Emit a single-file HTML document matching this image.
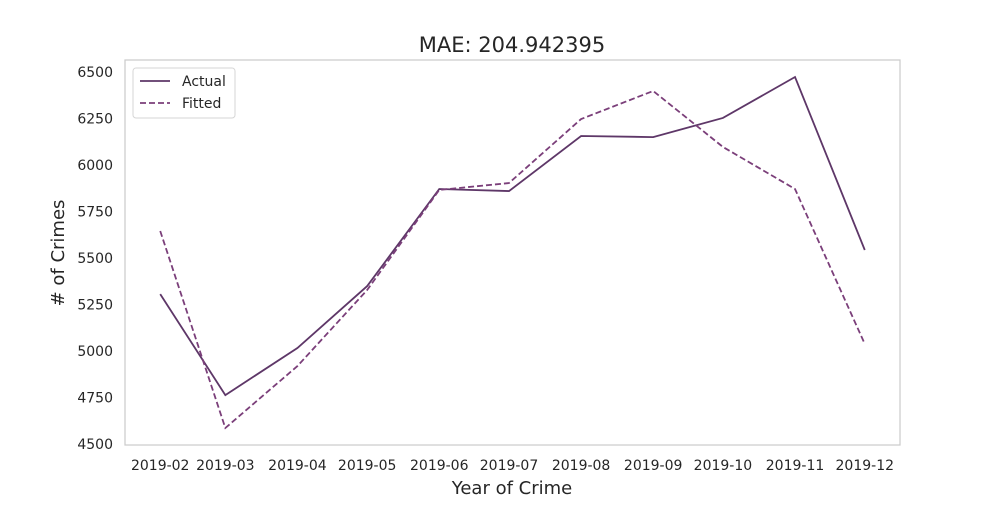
<!DOCTYPE html>
<html><head><meta charset="utf-8"><style>
body{margin:0;background:#fff;font-family:"Liberation Sans","DejaVu Sans",sans-serif;}
svg text{font-family:"DejaVu Sans","Liberation Sans",sans-serif;fill:#262626;}
</style></head><body>
<svg id="chart" width="1000" height="500" xmlns="http://www.w3.org/2000/svg"></svg>
<script>
const months = ["2019-02","2019-03","2019-04","2019-05","2019-06","2019-07","2019-08","2019-09","2019-10","2019-11","2019-12"];
const actual = [5306,4763,5016,5349,5871,5860,6156,6150,6253,6473,5543];
const fitted = [5645,4586,4919,5328,5866,5903,6247,6398,6097,5871,5038];
const yTicks = [4500,4750,5000,5250,5500,5750,6000,6250,6500];

const L=125,R=900,T=60,B=445;
const day=86400000;
const t0=Date.UTC(2019,1,1), t1=Date.UTC(2019,11,1);
const pad=(t1-t0)*0.05;
const xmin=t0-pad, xmax=t1+pad;
function toT(m){const [y,mo]=m.split("-").map(Number);return Date.UTC(y,mo-1,1);}
function x(m){return L+(toT(m)-xmin)/(xmax-xmin)*(R-L);}
const ymin=4500-0.86/0.186*0+ -3, ymax=6500+(72-60)/0.186;
function y(v){return 444-(v-4500)*0.186;}
const svg=document.getElementById('chart');
const NS="http://www.w3.org/2000/svg";
function el(tag,attrs,parent){const e=document.createElementNS(NS,tag);for(const k in attrs)e.setAttribute(k,attrs[k]);(parent||svg).appendChild(e);return e;}

const frame=el('rect',{x:L,y:T,width:R-L,height:B-T,fill:'#fff',stroke:'#cccccc','stroke-width':1.25});



yTicks.forEach(v=>{
  const t=el('text',{x:L-12,y:y(v)+5,'text-anchor':'end','font-size':14});
  t.textContent=v;
  
  
});
months.forEach(m=>{
  const t=el('text',{x:x(m),y:B+25,'text-anchor':'middle','font-size':14});
  t.textContent=m;
  
  
});

const pa=el('polyline',{points:months.map((m,i)=>x(m)+','+y(actual[i])).join(' '),fill:'none',stroke:'#5e3768','stroke-width':1.8});


const pf=el('polyline',{points:months.map((m,i)=>x(m)+','+y(fitted[i])).join(' '),fill:'none',stroke:'#7b3f7a','stroke-width':1.8,'stroke-dasharray':'6,3'});



const title=el('text',{x:512,y:52,'text-anchor':'middle','font-size':21});
title.textContent='MAE: 204.942395';


const xt=el('text',{x:512,y:494,'text-anchor':'middle','font-size':18});
xt.textContent='Year of Crime';


const yt=el('text',{x:64,y:253,'text-anchor':'middle','font-size':18,transform:'rotate(-90 64 253)'});
yt.textContent='# of Crimes';



const lg=el('g',{});


el('rect',{x:133,y:68,width:102,height:50,rx:3,fill:'#fff',stroke:'#d6d6d6'},lg);
el('line',{x1:140,y1:81,x2:170,y2:81,stroke:'#5e3768','stroke-width':1.8},lg);
el('line',{x1:140,y1:103,x2:170,y2:103,stroke:'#7b3f7a','stroke-width':1.8,'stroke-dasharray':'6,3'},lg);
const l1=el('text',{x:182,y:86,'font-size':14},lg);l1.textContent='Actual';


const l2=el('text',{x:182,y:108,'font-size':14},lg);l2.textContent='Fitted';


</script>
</body></html>
